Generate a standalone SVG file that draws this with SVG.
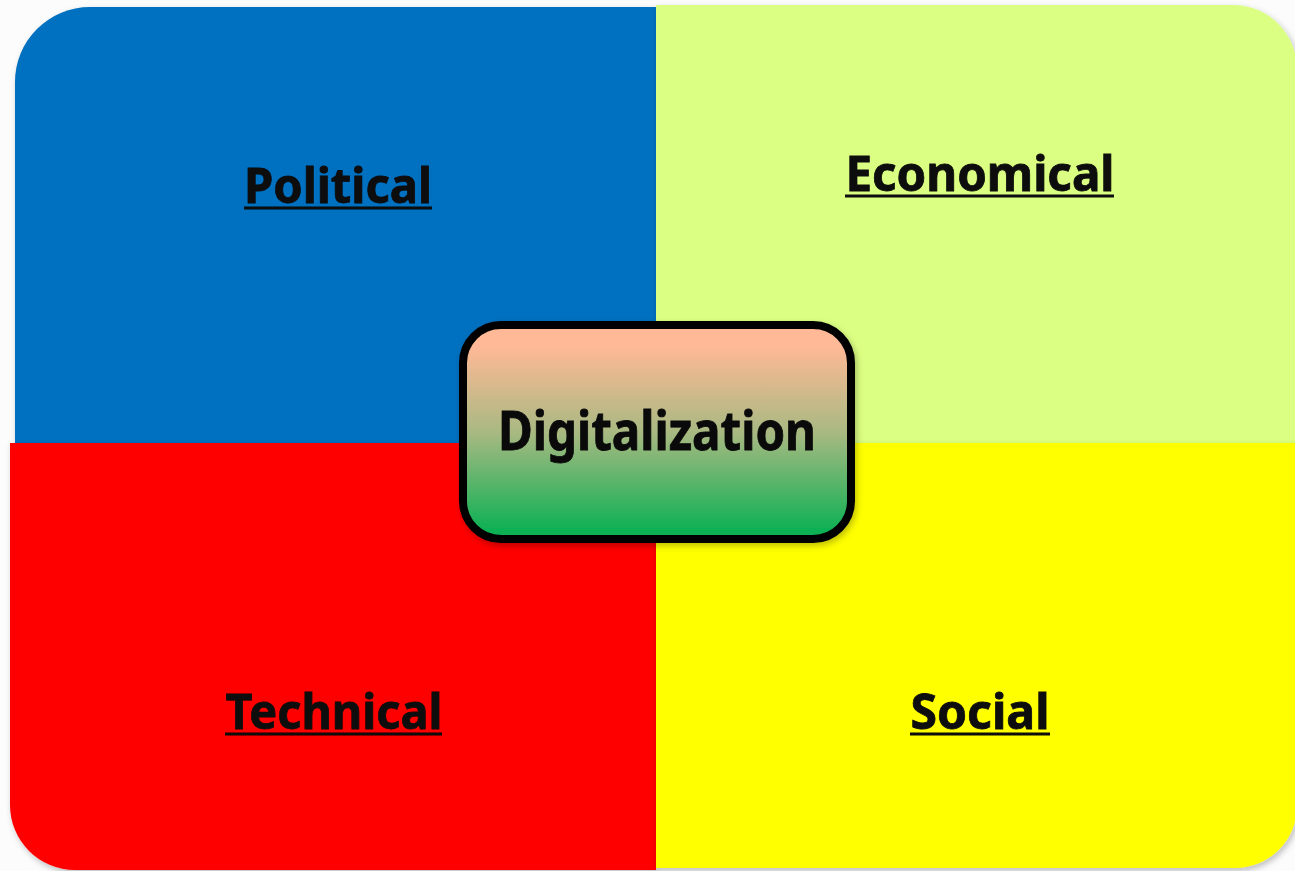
<svg xmlns="http://www.w3.org/2000/svg" width="1295" height="871" viewBox="0 0 1295 871">
<style>
.lbl{font-family:"Noto Sans","Open Sans","DejaVu Sans",sans-serif;font-weight:bold;fill:#0a0a0a;stroke:#0a0a0a;stroke-width:0.8;text-anchor:middle}
.ul{stroke:#0a0a0a;stroke-width:3}
</style>
<defs>
<linearGradient id="g" x1="0" y1="0" x2="0" y2="1">
<stop offset="0.1" stop-color="#FFB996"/>
<stop offset="0.5" stop-color="#A9B982"/>
<stop offset="1" stop-color="#00B050"/>
</linearGradient>
<filter id="sh" x="-10%" y="-10%" width="120%" height="120%">
<feDropShadow dx="2" dy="3" stdDeviation="3" flood-color="#000" flood-opacity="0.25"/>
</filter>
</defs>
<rect width="1295" height="871" fill="#fcfcfc"/>
<g id="political" filter="url(#sh)">
<path d="M15 443 V82 A75 75 0 0 1 90 7 H656 V443 Z" fill="#0070C0"/>
<text class="lbl" x="338" y="203" font-size="49" textLength="188" lengthAdjust="spacingAndGlyphs">Political</text>
<line class="ul" x1="244" y1="208" x2="432" y2="208"/>
</g>
<g id="economical" filter="url(#sh)">
<path d="M656 5 H1233 A64 64 0 0 1 1297 69 V443 H656 Z" fill="#DBFF82"/>
<text class="lbl" x="980" y="191" font-size="49" textLength="269" lengthAdjust="spacingAndGlyphs">Economical</text>
<line class="ul" x1="845" y1="196" x2="1114" y2="196"/>
</g>
<g id="technical" filter="url(#sh)">
<path d="M10 443 H656 V870 H75 A65 65 0 0 1 10 805 Z" fill="#FF0000"/>
<text class="lbl" x="334" y="729" font-size="49" textLength="217" lengthAdjust="spacingAndGlyphs">Technical</text>
<line class="ul" x1="225" y1="734" x2="442" y2="734"/>
</g>
<g id="social" filter="url(#sh)">
<path d="M656 443 H1297 V806 A62 62 0 0 1 1235 868 H656 Z" fill="#FFFF00"/>
<text class="lbl" x="980" y="729" font-size="49" textLength="139" lengthAdjust="spacingAndGlyphs">Social</text>
<line class="ul" x1="910" y1="734" x2="1050" y2="734"/>
</g>
<g id="digitalization">
<rect x="463" y="325" width="388" height="214" rx="38" fill="url(#g)" stroke="#000" stroke-width="8" filter="url(#sh)"/>
<text class="lbl" x="657" y="450" font-size="53" textLength="318" lengthAdjust="spacingAndGlyphs">Digitalization</text>
</g>
<g id="connectors"/>
</svg>
